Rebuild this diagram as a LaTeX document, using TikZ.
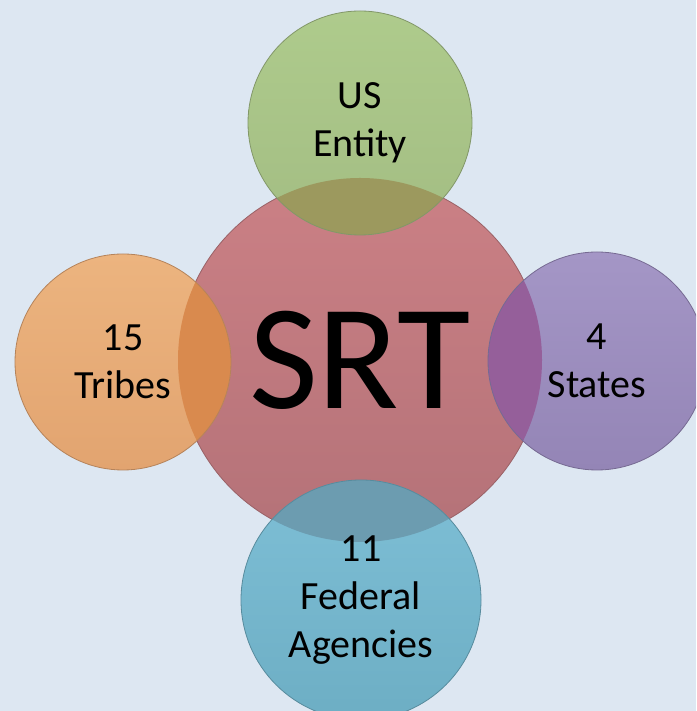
\documentclass[tikz,border=0pt]{standalone}
\usepackage{fontspec}
\setmainfont{Carlito}

\definecolor{bgblue}{HTML}{DDE7F2}
\definecolor{srtred}{HTML}{CB8085}
\definecolor{srtreddark}{HTML}{B47278}
\definecolor{entgreen}{HTML}{AECB8C}
\definecolor{entgreendark}{HTML}{A3BD83}
\definecolor{tribeorange}{HTML}{ECB47F}
\definecolor{tribeorangedark}{HTML}{E2A470}
\definecolor{statepurple}{HTML}{A496C6}
\definecolor{statepurpledark}{HTML}{9485B6}
\definecolor{agencyblue}{HTML}{7EBFD6}
\definecolor{agencybluedark}{HTML}{6DAEC4}
\definecolor{mixgreen}{HTML}{9C995E}
\definecolor{mixorange}{HTML}{D98A4E}
\definecolor{mixpurple}{HTML}{955F9A}
\definecolor{mixblue}{HTML}{6C9CB0}

\begin{document}
\begin{tikzpicture}[x=1pt, y=1pt,
        bubble/.style={circle, inner sep=0pt, align=center, text=black,
            font=\fontsize{40}{48}\selectfont, line width=0.8pt},
        overlap/.style={path picture={\fill[#1] (srt.center) circle (182pt);}}
    ]
        % Background
        \fill[bgblue] (0,0) rectangle (696,711);
        \useasboundingbox (0,0) rectangle (696,711);
        \clip (0,0) rectangle (696,711);

        % Center
        \node[bubble, minimum size=364pt, top color=srtred, bottom color=srtreddark,
            draw=srtreddark!85!black, font=\fontsize{150}{150}\selectfont] (srt) at (360,351) {SRT};

        % Satellites
        \node[bubble, minimum size=224pt, top color=entgreen, bottom color=entgreendark,
            draw=entgreendark!80!black, overlap=mixgreen] (entity) at (360,588) {US\\Entity};
        \node[bubble, minimum size=216pt, top color=tribeorange, bottom color=tribeorangedark,
            draw=tribeorangedark!80!black, overlap=mixorange] (tribes) at (123,349) {15\\Tribes};
        \node[bubble, minimum size=218pt, top color=statepurple, bottom color=statepurpledark,
            draw=statepurpledark!80!black, overlap=mixpurple] (states) at (597,350) {4\\States};
        \node[bubble, minimum size=240pt, top color=agencyblue, bottom color=agencybluedark,
            draw=agencybluedark!80!black, overlap=mixblue] (agencies) at (361,111) {11\\Federal\\Agencies};
    \end{tikzpicture}
\end{document}
